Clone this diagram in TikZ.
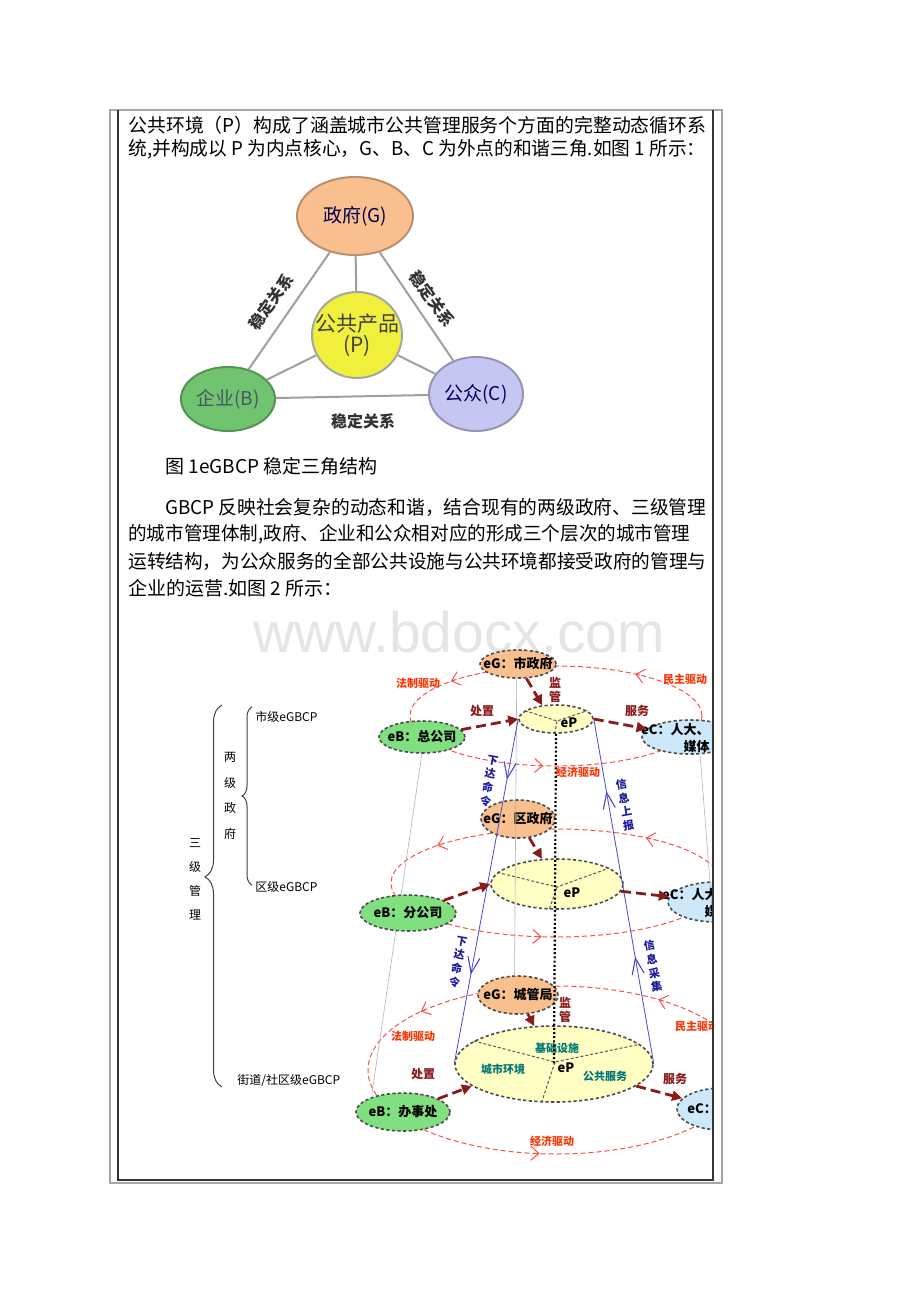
\documentclass[tikz,border=0pt]{standalone}
\usepackage{fontspec}
\setmainfont{Noto Sans CJK SC}
\newfontfamily\wmfont{Liberation Sans}
\usepackage{graphicx}
\usetikzlibrary{shapes.geometric,arrows.meta,calc,decorations.pathreplacing,decorations.markings}

\definecolor{triG}{HTML}{F9BF8F}
\definecolor{triP}{HTML}{F0F03C}
\definecolor{triB}{HTML}{70C470}
\definecolor{triC}{HTML}{C6C6F2}
\definecolor{peach}{HTML}{F9C08E}
\definecolor{lgreen}{HTML}{80E080}
\definecolor{lblue}{HTML}{CDE8FA}
\definecolor{lyellow}{HTML}{FFFFC4}
\definecolor{darkred}{HTML}{8B1A1A}
\definecolor{ringred}{HTML}{FF4D4D}
\definecolor{drive}{HTML}{FF3300}
\definecolor{infoblue}{HTML}{4848D0}
\definecolor{infotext}{HTML}{1A1A99}
\definecolor{sector}{HTML}{007777}

\newcommand\tline[2]{\resizebox{#1}{\height}{#2}}
\newcommand\nt[1]{\makebox[0pt]{#1}}

\tikzset{
	body/.style={anchor=west, inner sep=0pt, font=\fontsize{9.5pt}{11pt}\selectfont}, % lines of the page text
	tri/.style={ellipse, fill=#1, draw=#1!75!black, line width=1pt, inner sep=0pt}, % the four parties of fig 1
	tritext/.style={inner sep=0pt, align=center, font=\fontsize{9.5pt}{10pt}\selectfont},
	rel/.style={draw=gray!75, line width=1pt}, % stable relations
	rellbl/.style={inner sep=0pt, text=black!80, font=\bfseries\fontsize{8pt}{9pt}\selectfont},
	lvl/.style={ellipse, draw=black!70, dash pattern=on 1.6pt off 1.2pt, line width=0.8pt, inner sep=0pt, font=\bfseries\fontsize{6.5pt}{8.5pt}\selectfont}, % nodes of one level
	eg/.style={lvl, fill=peach},
	eb/.style={lvl, fill=lgreen},
	ec/.style={lvl, fill=lblue},
	ep/.style={lvl, fill=lyellow},
	nlbl/.style={inner sep=0pt, font=\bfseries\fontsize{6.5pt}{8.5pt}\selectfont},
	ring/.style={draw=ringred, line width=0.5pt, dash pattern=on 2.5pt off 1.5pt}, % driving cycles
	ringtip/.style={ringred, line width=0.5pt, -{Straight Barb[length=4pt,width=7pt]}},
	flow/.style={draw=darkred, line width=1.4pt, dash pattern=on 5pt off 2.5pt, -{Triangle[length=5pt,width=5pt]}},
	flowlbl/.style={inner sep=0pt, align=center, text=darkred, font=\bfseries\fontsize{6pt}{7pt}\selectfont},
	drv/.style={inner sep=0pt, text=drive, font=\bfseries\fontsize{5.5pt}{6.5pt}\selectfont},
	info/.style={infoblue, line width=0.4pt}, % commands down, reports up
	infotip/.style={decoration={markings, mark=at position #1 with {\arrow{Straight Barb[length=8pt,width=6pt]}}}, postaction=decorate},
	infolbl/.style={inner sep=0pt, align=center, text=infotext, font=\bfseries\fontsize{5.5pt}{7pt}\selectfont},
	axis/.style={draw=black, line width=1.1pt, dash pattern=on 1pt off 1.1pt},
	guide/.style={draw=gray!60, line width=0.3pt},
	slice/.style={draw=black!65, line width=0.5pt, dash pattern=on 1.5pt off 1pt},
	sec/.style={inner sep=0pt, text=sector, font=\bfseries\fontsize{5.5pt}{6.5pt}\selectfont},
	lvltext/.style={anchor=west, inner sep=0pt, font=\fontsize{6pt}{7pt}\selectfont},
	brc/.style={draw=black!75, line width=0.5pt, decorate},
}

\begin{document}
\begin{tikzpicture}[x=0.5pt, y=-0.5pt]
	\useasboundingbox (0,0) rectangle (920,1302);

	% page text
	\node[body] (l1) at (128,125) {\tline{289pt}{公共环境（P）构成了涵盖城市公共管理服务个方面的完整动态循环系}};
	\node[body] (l2) at (128,149) {\tline{288.5pt}{统,并构成以 P 为内点核心，G、B、C 为外点的和谐三角.如图 1 所示：}};
	\node[body] (cap) at (165,466) {图 1eGBCP 稳定三角结构};
	\node[body] (q1) at (165,507) {\tline{270.5pt}{GBCP 反映社会复杂的动态和谐，结合现有的两级政府、三级管理}};
	\node[body] (q2) at (128,534) {\tline{281pt}{的城市管理体制,政府、企业和公众相对应的形成三个层次的城市管理}};
	\node[body] (q3) at (128,561) {\tline{289pt}{运转结构，为公众服务的全部公共设施与公共环境都接受政府的管理与}};
	\node[body] (q4) at (128,588) {企业的运营.如图 2 所示：};
	\node[anchor=base, inner sep=0pt, text=black!10, font=\wmfont\fontsize{28.5pt}{30pt}\selectfont] (wm) at (459,652) {www.bdocx.com};

	% figure 1
	\node[tri=triG, minimum width=58pt, minimum height=39pt] (G) at (355,216) {};
	\node[tri=triP, draw=gray!70, minimum width=45pt, minimum height=43pt] (P) at (357,335) {};
	\node[tri=triB, minimum width=47pt, minimum height=32pt] (B) at (228,399) {};
	\node[tri=triC, minimum width=47pt, minimum height=37pt] (C) at (476,394) {};
	\draw[rel] (G) -- (B) (G) -- (C) (G) -- (P) (P) -- (B) (P) -- (C) (B) -- (C);
	\node[tritext, text=black!70!blue] (Gt) at (G) {政府(G)};
	\node[tritext, text=black!75, font=\fontsize{10.5pt}{10.5pt}\selectfont] (Pt) at (P) {公共产品\\(P)};
	\node[tritext, text=black!70!cyan] (Bt) at (B) {企业(B)};
	\node[tritext, text=black!60!blue] (Ct) at (C) {公众(C)};
	\node[rellbl, rotate=54] (sGB) at (271,302) {稳定关系};
	\node[rellbl, rotate=-54] (sGC) at (432,299) {稳定关系};
	\node[rellbl] (sBC) at (363,421) {稳定关系};

	% figure 2
	\begin{scope}
		\clip (170,640) rectangle (712,1175);
		\foreach \cy/\rx/\ry in {716/146/50, 883/165/54, 1070/188/84}{
			\draw[ring] (556,\cy) ellipse [x radius=\rx, y radius=\ry];
			\foreach \a in {226,305,97}
				\draw[ringtip] ({556+\rx*cos(\a)},{\cy+\ry*sin(\a)}) -- ({556+\rx*cos(\a-2)},{\cy+\ry*sin(\a-2)});
		}

		\draw[guide] (422,753) -- (372,1093);
		\node[eg, minimum width=38pt, minimum height=14pt] (g1) at (518,664) {\nt{eG：市政府}};
		\node[ep, minimum width=37pt, minimum height=14pt] (p1) at (556,719) {};
		\node[eb, minimum width=43pt, minimum height=16pt] (b1) at (422,737) {\nt{eB：总公司}};
		\node[ec, minimum width=48pt, minimum height=17pt] (c1) at (690,737) {};
		\node[eg, minimum width=37pt, minimum height=19pt] (g2) at (518,819) {\nt{eG：区政府}};
		\node[ep, minimum width=66pt, minimum height=25pt] (p2) at (557,884) {};
		\node[eb, minimum width=48pt, minimum height=18pt] (b2) at (408,913) {\nt{eB：分公司}};
		\node[ec, minimum width=48pt, minimum height=20pt] (c2) at (716,902) {};
		\node[eg, minimum width=40pt, minimum height=19pt] (g3) at (518,995) {\nt{eG：城管局}};
		\node[ep, minimum width=99pt, minimum height=38pt] (p3) at (554,1064) {};
		\node[eb, minimum width=47pt, minimum height=19pt] (b3) at (403,1112) {\nt{eB：办事处}};
		\node[ec, minimum width=45pt, minimum height=21pt] (c3) at (722,1109) {};

		\draw[guide] (g1.265) -- (g3.100);
		\draw[guide] (c1.300) -- (c3.80);

		\node[nlbl, align=right, anchor=east] (c1t) at (710,738) {eC：人大、\\媒体};
		\node[nlbl, align=right, anchor=east] (c2t) at (731,903) {eC：人大、\\媒体};
		\node[nlbl, anchor=west] (c3t) at (687,1109) {eC：};

		\coordinate (h1) at ($(p1)+(1,2)$);
		\coordinate (h2) at ($(p2)+(0,3)$);
		\coordinate (h3) at ($(p3)+(1,-2)$);
		\draw[slice] (p1.165) -- (h1) -- (p1.15);
		\draw[slice] (h1) -- (p1.265);
		\draw[slice] (p2.169) -- (h2) -- (p2.17);
		\draw[slice] (h2) -- (p2.253);
		\draw[slice] (p3.164) -- (h3) -- (p3.13);
		\draw[slice] (h3) -- (p3.252);
		\node[nlbl] (p1t) at ($(p1)+(13,4)$) {eP};
		\node[nlbl] (p2t) at ($(p2)+(15,9)$) {eP};
		\node[nlbl] (p3t) at ($(p3)+(12,4)$) {eP};
		\node[sec] (s1) at (557,1048) {基础设施};
		\node[sec] (s2) at (503,1069) {城市环境};
		\node[sec] (s3) at (605,1076) {公共服务};

		\draw[axis] (p1.south) -- (p3.center);
		\draw[info, infotip=0.175, infotip=0.74] (p1.west) -- (p3.west);
		\draw[info, infotip=0.31, infotip=0.79] (p3.east) -- (p1.east);
		\node[infolbl, rotate=-10] (cmd1) at (489,781) {下\\达\\命\\令};
		\node[infolbl, rotate=-10] (cmd2) at (458,962) {下\\达\\命\\令};
		\node[infolbl, rotate=10] (rep1) at (625,805) {信\\息\\上\\报};
		\node[infolbl, rotate=10] (rep2) at (653,966) {信\\息\\采\\集};

		\draw[flow] (g1) -- (p1.135);
		\draw[flow] (b1) -- (p1.west);
		\draw[flow] (p1.east) -- (c1);
		\draw[flow] (g2) -- (p2);
		\draw[flow] (b2) -- (p2.west);
		\draw[flow] (p2) -- (c2);
		\draw[flow] (g3) -- (p3);
		\draw[flow] (b3) -- (p3.195);
		\draw[flow] (p3) -- (c3);
		\node[flowlbl] (m1) at (555,690) {监\\管};
		\node[flowlbl] (d1) at (482,711) {处置};
		\node[flowlbl] (f1) at (637,711) {服务};
		\node[flowlbl] (m3) at (565,1010) {监\\管};
		\node[flowlbl] (d3) at (423,1074) {处置};
		\node[flowlbl] (f3) at (675,1079) {服务};

		\node[drv] (law1) at (418,683) {法制驱动};
		\node[drv] (dem1) at (685,679) {民主驱动};
		\node[drv] (eco1) at (578,772) {经济驱动};
		\node[drv] (law3) at (413,1036) {法制驱动};
		\node[drv] (dem3) at (697,1026) {民主驱动};
		\node[drv] (eco3) at (552,1141) {经济驱动};

		% levels on the left
		\node[lvltext] (city) at (255,717) {市级eGBCP};
		\node[lvltext] (dist) at (255,887) {区级eGBCP};
		\node[lvltext] (street) at (237,1080) {街道/社区级eGBCP};
		\node[inner sep=0pt, align=center, font=\fontsize{6pt}{12.8pt}\selectfont] (two) at (230,796) {两\\级\\政\\府};
		\node[inner sep=0pt, align=center, font=\fontsize{6pt}{12pt}\selectfont] (three) at (195,879) {三\\级\\管\\理};
		\draw[brc, decoration={brace, amplitude=5pt, aspect=0.5}] (252,885) -- (252,707);
		\draw[brc, decoration={brace, amplitude=8.5pt, aspect=0.55}] (222,1087) -- (222,705);
	\end{scope}

	% table frame
	\draw[gray!70, line width=0.6pt] (110,110) rectangle (722,1183);
	\draw[black!80, line width=0.6pt] (118,110) -- (118,1180) -- (713,1180) -- (713,110);
\end{tikzpicture}
\end{document}
